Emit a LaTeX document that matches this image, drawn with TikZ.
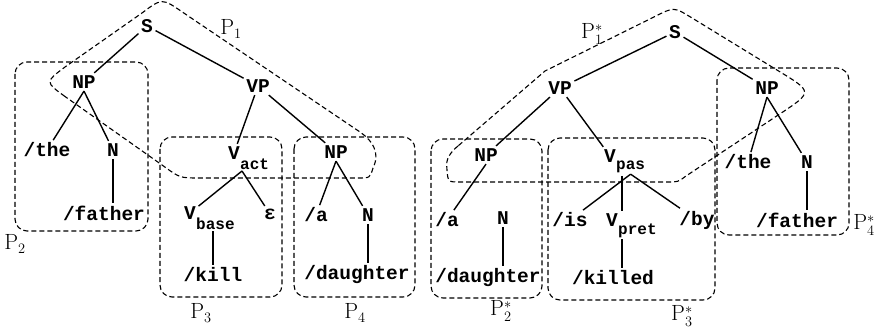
\documentclass[tikz,border=0pt]{standalone}
\usepackage{fontspec}
\newfontfamily\typew{Liberation Mono}
\tikzset{
  word/.style={font=\typew\bfseries\fontsize{19.5}{20}\selectfont, inner sep=2.5pt},
  sub/.style={font=\typew\bfseries\fontsize{16}{16}\selectfont, inner sep=1pt, anchor=west},
  branch/.style={line width=1.4pt},
  part/.style={dash pattern=on 5pt off 3pt, line width=1.1pt},
  box/.style={part, rounded corners=12pt},
  plabel/.style={font=\fontsize{22}{22}\selectfont, inner sep=0pt}
}
\begin{document}
\begin{tikzpicture}[x=1pt,y=-1pt]
\fill[white] (0,0) rectangle (881,331);
\useasboundingbox (0,0) rectangle (881,331);

% ---------- active tree ----------
\node[word] (S)         at (147,26)  {S};
\node[word] (NPa)       at (84,82)   {NP};
\node[word] (VPa)       at (258,86)  {VP};
\node[word] (thea)      at (47,150)  {/the};
\node[word] (Na)        at (113,150) {N};
\node[word] (fathera)   at (104,213) {/father};
\node[word] (Vact)      at (234,153) {V};
\node[sub]  (acts)      at (239,164) {act};
\node[word] (NPb)       at (336,152) {NP};
\node[word] (Vbase)     at (190,213) {V};
\node[sub]  (bases)     at (195,224) {base};
\node[word] (eps)       at (270,214) {ε};
\node[word] (aa)        at (316,215) {/a};
\node[word] (Nb)        at (368,215) {N};
\node[word] (kill)      at (213,275) {/kill};
\node[word] (daughtera) at (357,275) {/daughter};
\coordinate (actfoot) at (242,171);

\draw[branch] (S) -- (NPa);
\draw[branch] (S) -- (VPa);
\draw[branch] (NPa.south) -- (thea);
\draw[branch] (NPa.south) -- (Na);
\draw[branch] (Na) -- (Na |- fathera.north);
\draw[branch] (VPa) -- (Vact);
\draw[branch] (VPa) -- (NPb);
\draw[branch] (actfoot) -- (Vbase);
\draw[branch] (actfoot) -- (eps);
\draw[branch] (kill.north |- bases.south) -- (kill.north);
\draw[branch] (NPb.south) -- (aa);
\draw[branch] (NPb.south) -- (Nb);
\draw[branch] (Nb) -- (Nb |- daughtera.north);

% ---------- passive tree ----------
\node[word] (Sb)        at (675,32)  {S};
\node[word] (VPb)       at (560,88)  {VP};
\node[word] (NPc)       at (767,88)  {NP};
\node[word] (NPd)       at (486,155) {NP};
\node[word] (Vpas)      at (610,156) {V};
\node[sub]  (pass)      at (615,167) {pas};
\node[word] (theb)      at (748,162) {/the};
\node[word] (Nc)        at (807,162) {N};
\node[word] (fatherb)   at (797,220) {/father};
\node[word] (ab)        at (447,220) {/a};
\node[word] (Nd)        at (503,218) {N};
\node[word] (daughterb) at (488,278) {/daughter};
\node[word] (is)        at (570,220) {/is};
\node[word] (Vpret)     at (612,220) {V};
\node[sub]  (prets)     at (617,231) {pret};
\node[word] (by)        at (697,220) {/by};
\node[word] (killed)    at (613,278) {/killed};
\coordinate (pasfoot) at (622,176);

\draw[branch] (Sb) -- (VPb);
\draw[branch] (Sb) -- (NPc);
\draw[branch] (VPb) -- (NPd);
\draw[branch] (VPb) -- (Vpas);
\draw[branch] (NPc.south) -- (theb);
\draw[branch] (NPc.south) -- (Nc);
\draw[branch] (Nc) -- (Nc |- fatherb.north);
\draw[branch] (NPd.south) -- (ab);
\draw[branch] (Nd) -- (Nd |- daughterb.north);
\draw[branch] (pass.south) -- (is);
\draw[branch] (pass.south) -- (by);
\draw[branch] (pasfoot) -- (pasfoot |- Vpret.north);
\draw[branch] (pasfoot |- prets.south) -- (pasfoot |- killed.north);

% ---------- partitions ----------
\draw[box] (15,62)   rectangle (148,231);
\draw[box] (160,137) rectangle (282,297);
\draw[box] (294,137) rectangle (415,297);
\draw[box] (431,139) rectangle (542,298);
\draw[box] (548,138) rectangle (715,300);
\draw[box] (717,68)  rectangle (849,235);

\draw[part] (65,96.5) .. controls (45,82) .. (65,67)
  -- (142,13) .. controls (162,-2) .. (182.6,12.2)
  -- (360,132) .. controls (380,146) and (377,160) .. (373,168)
  .. controls (370,178) .. (358,178)
  -- (200,178) .. controls (180,178) .. (164,166.4) -- cycle;

\draw[part] (458,146) .. controls (446,156) and (446,163) .. (447,170)
  .. controls (448,182) .. (460,182)
  -- (668,182) .. controls (678,182) .. (686,176)
  -- (779.6,114.1) .. controls (813,92) .. (778.9,71.2)
  -- (691.1,17.4) .. controls (674,7) .. (656.1,15.9)
  -- (545,71) -- cycle;

% ---------- partition labels ----------
\node[plabel] (p1)  at (231,29)  {$\mathrm{P}_{1}$};
\node[plabel] (p2)  at (15,244)  {$\mathrm{P}_{2}$};
\node[plabel] (p3)  at (201,313) {$\mathrm{P}_{3}$};
\node[plabel] (p4)  at (355,313) {$\mathrm{P}_{4}$};
\node[plabel] (p1s) at (592,34)  {$\mathrm{P}^{*}_{1}$};
\node[plabel] (p2s) at (501,311) {$\mathrm{P}^{*}_{2}$};
\node[plabel] (p3s) at (682,316) {$\mathrm{P}^{*}_{3}$};
\node[plabel] (p4s) at (864,225) {$\mathrm{P}^{*}_{4}$};
\end{tikzpicture}
\end{document}
